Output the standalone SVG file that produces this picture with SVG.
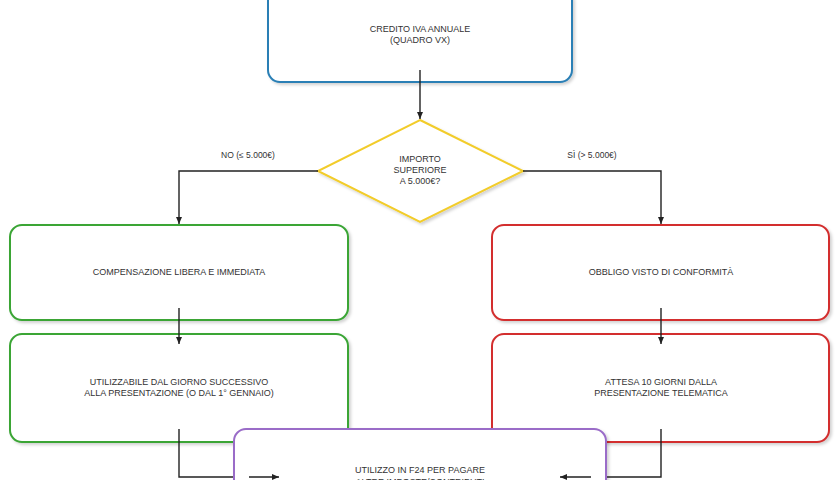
<svg xmlns="http://www.w3.org/2000/svg" width="840" height="480" viewBox="0 0 840 480">
<defs>
<filter id="sh" x="-10%" y="-10%" width="120%" height="130%">
<feDropShadow dx="2" dy="2" stdDeviation="1.5" flood-color="#000" flood-opacity="0.18"/>
</filter>
<marker id="ah" markerWidth="8" markerHeight="8" refX="7" refY="4" orient="auto" markerUnits="userSpaceOnUse">
<path d="M0,1 L7,4 L0,7 Z" fill="#222"/>
</marker>
<style>
.box{fill:#fff;stroke-width:2;filter:url(#sh)}
.t{font-family:"Liberation Sans",Arial,sans-serif;font-size:9px;fill:#333;text-anchor:middle}
.lbl{font-family:"Liberation Sans",Arial,sans-serif;font-size:8.5px;fill:#333;text-anchor:middle}
.c{fill:none;stroke:#222;stroke-width:1.4}
</style>
</defs>
<rect width="840" height="480" fill="#fff"/>
<g id="n-credito">
<rect class="box" x="268" y="-12" width="304" height="94" rx="12" stroke="#2a7fb5"/>
<text class="t" x="420" y="32">CREDITO IVA ANNUALE</text>
<text class="t" x="420" y="43">(QUADRO VX)</text>
</g>
<g id="n-importo">
<polygon class="box" points="420,120 523,171 420,222 318,171" stroke="#f2cc2a"/>
<text class="t" x="420" y="162">IMPORTO</text>
<text class="t" x="420" y="173">SUPERIORE</text>
<text class="t" x="420" y="184">A 5.000€?</text>
</g>
<g id="n-compensazione">
<rect class="box" x="10" y="225" width="338" height="95" rx="12" stroke="#3aa535"/>
<text class="t" x="179" y="275">COMPENSAZIONE LIBERA E IMMEDIATA</text>
</g>
<g id="n-visto">
<rect class="box" x="492" y="225" width="337" height="95" rx="12" stroke="#d32f2f"/>
<text class="t" x="661" y="275">OBBLIGO VISTO DI CONFORMITÀ</text>
</g>
<g id="n-utilizzabile">
<rect class="box" x="10" y="334" width="338" height="108" rx="12" stroke="#3aa535"/>
<text class="t" x="179" y="385">UTILIZZABILE DAL GIORNO SUCCESSIVO</text>
<text class="t" x="179" y="396">ALLA PRESENTAZIONE (O DAL 1° GENNAIO)</text>
</g>
<g id="n-attesa">
<rect class="box" x="492" y="334" width="337" height="108" rx="12" stroke="#d32f2f"/>
<text class="t" x="661" y="385">ATTESA 10 GIORNI DALLA</text>
<text class="t" x="661" y="396">PRESENTAZIONE TELEMATICA</text>
</g>
<g id="n-f24">
<rect class="box" x="234" y="429" width="372" height="100" rx="12" stroke="#9a6cc8"/>
<text class="t" x="420" y="473">UTILIZZO IN F24 PER PAGARE</text>
<text class="t" x="420" y="484.5">ALTRE IMPOSTE/CONTRIBUTI</text>
</g>
<g id="connectors">
<path class="c" d="M420,70 V119" marker-end="url(#ah)"/>
<path class="c" d="M318,171 H179 V224" marker-end="url(#ah)"/>
<path class="c" d="M523,171 H661 V224" marker-end="url(#ah)"/>
<path class="c" d="M179,308 V344" marker-end="url(#ah)"/>
<path class="c" d="M661,308 V344" marker-end="url(#ah)"/>
<path class="c" d="M179,429 V477 H233 M249,477 H279" marker-end="url(#ah)"/>
<path class="c" d="M661,429 V477 H607 M591,477 H560" marker-end="url(#ah)"/>
<text class="lbl" x="248" y="158">NO (≤ 5.000€)</text>
<text class="lbl" x="592" y="158">SÌ (&gt; 5.000€)</text>
</g>
</svg>
